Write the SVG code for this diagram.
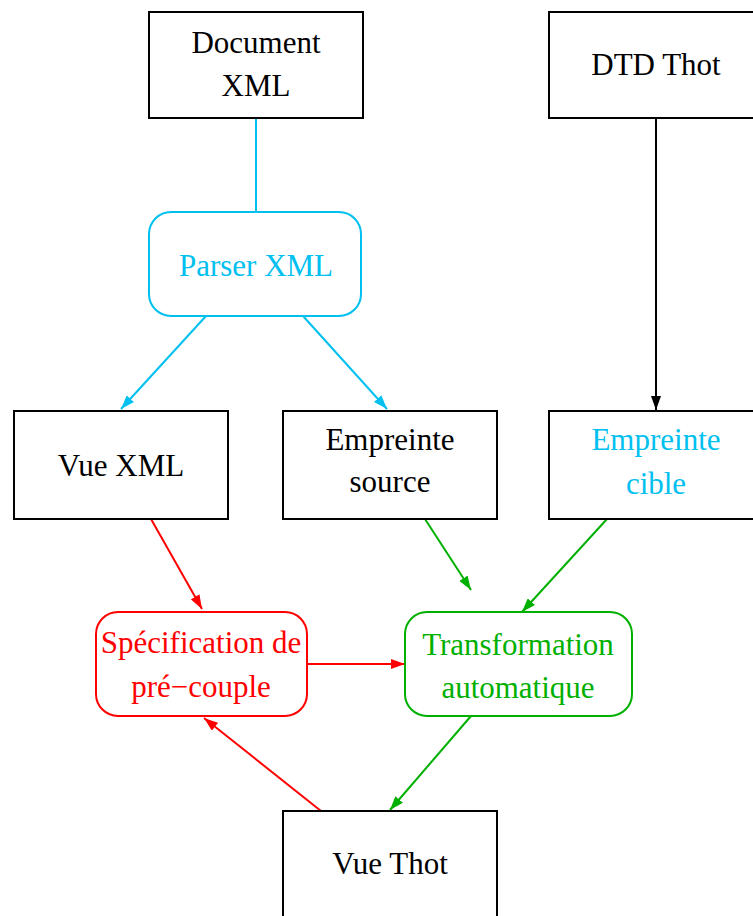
<svg xmlns="http://www.w3.org/2000/svg" width="753" height="916" viewBox="0 0 753 916">
<style>
text{font-family:"Liberation Serif","Times New Roman",serif;font-size:31px;text-anchor:middle}
.box{fill:none;stroke:#000;stroke-width:2}
.k{fill:#000}.c{fill:#00c0f0}.r{fill:#ff0000}.g{fill:#00b000}
.lc{stroke:#00c0f0;stroke-width:2;fill:none}
.lk{stroke:#000;stroke-width:2;fill:none}
.lr{stroke:#ff0000;stroke-width:2;fill:none}
.lg{stroke:#00b000;stroke-width:2;fill:none}
</style>
<defs>
<marker id="ac" viewBox="0 0 14 10" refX="14" refY="5" markerWidth="14" markerHeight="10" markerUnits="userSpaceOnUse" orient="auto"><path d="M0,0L14,5L0,10z" fill="#00c0f0"/></marker>
<marker id="ak" viewBox="0 0 14 10" refX="14" refY="5" markerWidth="14" markerHeight="10" markerUnits="userSpaceOnUse" orient="auto"><path d="M0,0L14,5L0,10z" fill="#000"/></marker>
<marker id="ar" viewBox="0 0 14 10" refX="14" refY="5" markerWidth="14" markerHeight="10" markerUnits="userSpaceOnUse" orient="auto"><path d="M0,0L14,5L0,10z" fill="#ff0000"/></marker>
<marker id="ag" viewBox="0 0 14 10" refX="14" refY="5" markerWidth="14" markerHeight="10" markerUnits="userSpaceOnUse" orient="auto"><path d="M0,0L14,5L0,10z" fill="#00b000"/></marker>
</defs>
<rect width="753" height="916" fill="#fff"/>
<g id="connectors">
<path class="lc" d="M256,118V212"/>
<path class="lc" d="M206,316L121,409" marker-end="url(#ac)"/>
<path class="lc" d="M303,316L387,409" marker-end="url(#ac)"/>
<path class="lk" d="M656,118V410" marker-end="url(#ak)"/>
<path class="lr" d="M151,519L202,609" marker-end="url(#ar)"/>
<path class="lg" d="M425,519L471,590" marker-end="url(#ag)"/>
<path class="lg" d="M607,519L522,612" marker-end="url(#ag)"/>
<path class="lr" d="M307,664H405" marker-end="url(#ar)"/>
<path class="lg" d="M471,716L390,810" marker-end="url(#ag)"/>
<path class="lr" d="M321,811L204,718" marker-end="url(#ar)"/>
</g>
<g id="doc-xml"><rect class="box" x="149" y="12" width="214" height="106"/><text class="k" x="256" y="53">Document</text><text class="k" x="256" y="96">XML</text></g>
<g id="dtd-thot"><rect class="box" x="549" y="12" width="214" height="106"/><text class="k" x="656" y="75">DTD Thot</text></g>
<g id="parser-xml"><rect x="149" y="212" width="212" height="104" rx="22" fill="none" stroke="#00c0f0" stroke-width="2"/><text class="c" x="256" y="276">Parser XML</text></g>
<g id="vue-xml"><rect class="box" x="14" y="411" width="214" height="108"/><text class="k" x="121" y="476">Vue XML</text></g>
<g id="empreinte-source"><rect class="box" x="283" y="411" width="214" height="108"/><text class="k" x="390" y="450">Empreinte</text><text class="k" x="390" y="492">source</text></g>
<g id="empreinte-cible"><rect class="box" x="549" y="411" width="214" height="108"/><text class="c" x="656" y="450">Empreinte</text><text class="c" x="656" y="494">cible</text></g>
<g id="specification"><rect x="96" y="612" width="211" height="104" rx="22" fill="none" stroke="#ff0000" stroke-width="2"/><text class="r" x="201" y="653">Spécification de</text><text class="r" x="201" y="697">pré−couple</text></g>
<g id="transformation"><rect x="405" y="612" width="227" height="104" rx="22" fill="none" stroke="#00b000" stroke-width="2"/><text class="g" x="518" y="655">Transformation</text><text class="g" x="518" y="698">automatique</text></g>
<g id="vue-thot"><rect class="box" x="283" y="811" width="214" height="110"/><text class="k" x="390" y="874">Vue Thot</text></g>
</svg>
